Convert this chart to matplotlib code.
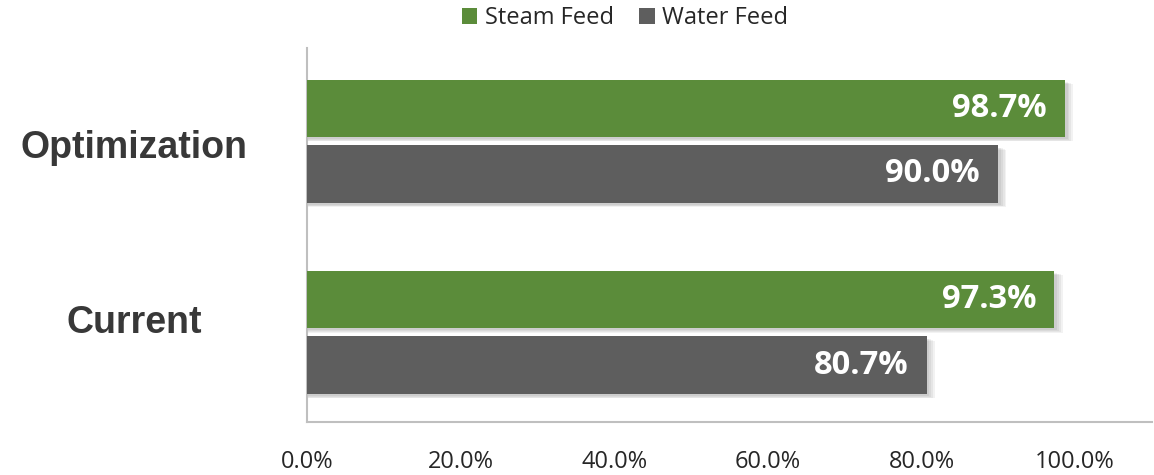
import matplotlib
matplotlib.use("Agg")
import matplotlib.pyplot as plt
import numpy as np

categories = ["Current", "Optimization"]
steam_feed = [97.3, 98.7]
water_feed = [80.7, 90.0]
series_names = ["Steam Feed", "Water Feed"]
tick_values = [0, 20, 40, 60, 80, 100]
tick_labels = ["0.0%", "20.0%", "40.0%", "60.0%", "80.0%", "100.0%"]

green = "#5B8C3A"
gray = "#5E5E5E"

fig = plt.figure(figsize=(11.54, 4.75), dpi=100)
ax = fig.add_axes([307/1154, 53/475, 845/1154, 374/475])

y = np.arange(len(categories))
h = 0.30
off = 0.172

# soft shadows
for vals, sign in [(steam_feed, 1), (water_feed, -1)]:
    for k in range(4):
        ax.barh(y + sign*off - 0.012 - k*0.004, np.array(vals) + 0.3 + k*0.25, height=h,
                color="black", alpha=0.05, zorder=1, linewidth=0)

b1 = ax.barh(y + off, steam_feed, height=h, color=green, zorder=3, label=series_names[0])
b2 = ax.barh(y - off, water_feed, height=h, color=gray, zorder=3, label=series_names[1])

for bars, vals in [(b1, steam_feed), (b2, water_feed)]:
    for rect, v in zip(bars, vals):
        ax.text(v - 2.4, rect.get_y() + rect.get_height()/2, f"{v:.1f}%",
                ha="right", va="center", color="white", fontsize=23.5,
                fontweight="bold", family="Open Sans", zorder=4)

ax.set_xlim(0, 110)
ax.set_ylim(-0.47, 1.487)
ax.set_xticks(tick_values)
ax.set_xticklabels(tick_labels, family="Open Sans", fontsize=17, color="#262626")
ax.tick_params(axis="x", length=0, pad=20)
ax.set_yticks([])
label_shift = [0.047, -0.037]
for lbl, yy, sh in zip(categories, y, label_shift):
    ax.text(-0.205, yy + sh, lbl, transform=ax.get_yaxis_transform(), ha="center", va="center",
            fontsize=27, fontweight="bold", family="Liberation Sans", color="#383838")

for s in ["top", "right"]:
    ax.spines[s].set_visible(False)
for s in ["left", "bottom"]:
    ax.spines[s].set_color("#BFBFBF")
    ax.spines[s].set_linewidth(1.5)

leg = fig.legend(handles=[b1, b2], labels=series_names, loc="center",
                 bbox_to_anchor=(625/1154, 1 - 18/475), ncol=2, frameon=False,
                 prop={"family": "Open Sans", "size": 17}, handlelength=0.65, handleheight=0.65,
                 handletextpad=0.3, columnspacing=1.1)
for t in leg.get_texts():
    t.set_color("#262626")

fig.savefig("out.png", dpi=100, facecolor="white")
